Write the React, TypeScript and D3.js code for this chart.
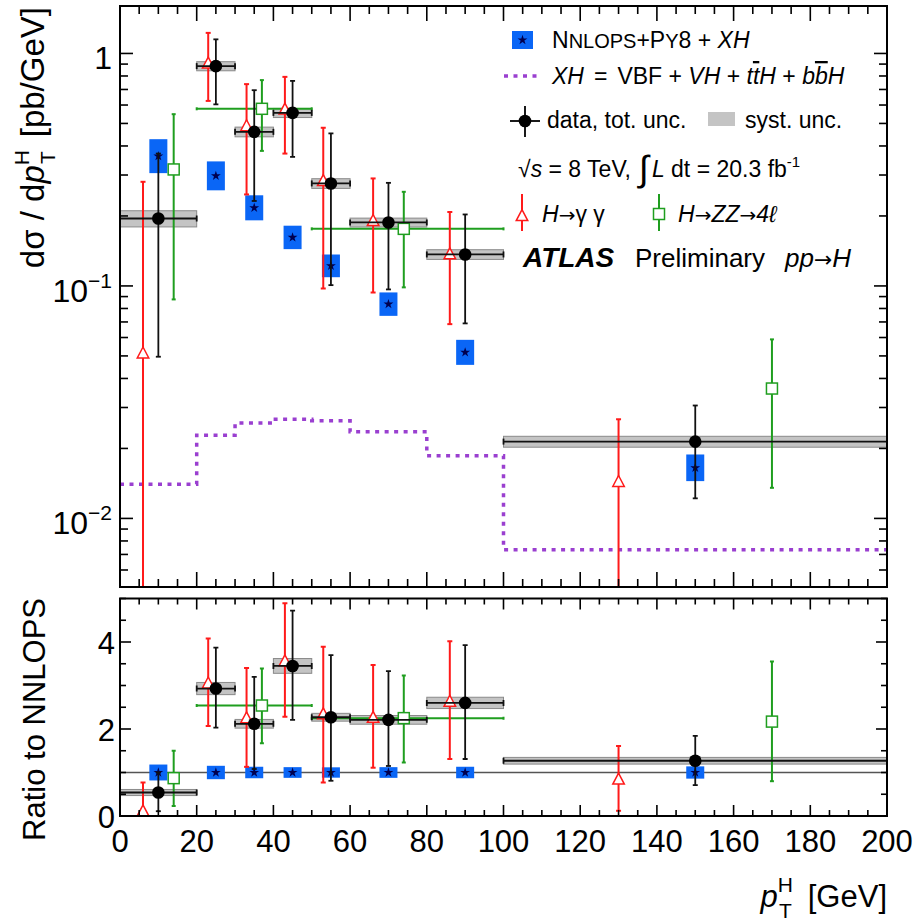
import React from "react";
import * as d3 from "d3";

// ---------------- data ----------------
const binLo = [0, 20, 30, 40, 50, 60, 80, 100];
const binHi = [20, 30, 40, 50, 60, 80, 100, 200];

// combined data (black)
const dataX = [10, 25, 35, 45, 55, 70, 90, 150];
const dataY = [0.195, 0.882, 0.46, 0.555, 0.276, 0.1875, 0.1366, 0.0214];
const dataUp = [0.371, 1.15, 0.695, 0.762, 0.453, 0.2776, 0.203, 0.0306];
const dataDn = [0.0496, 0.604, 0.232, 0.359, 0.1008, 0.0966, 0.069, 0.0122];
const dataSyst = [0.08, 0.045, 0.048, 0.045, 0.048, 0.044, 0.048, 0.054];

// NNLOPS+PY8 + XH (blue)
const nnlopsY = [0.3616, 0.2975, 0.2168, 0.1617, 0.122, 0.0835, 0.0518, 0.01651];
const nnlopsUnc = [0.183, 0.154, 0.132, 0.123, 0.119, 0.123, 0.132, 0.141];

// XH = VBF + VH + ttH + bbH (purple step)
const xhY = [0.01404, 0.0228, 0.0257, 0.0267, 0.0263, 0.0236, 0.0186, 0.00733];

// H -> gamma gamma (red)
const yyX = [6, 23, 33, 43, 53, 66, 86, 130];
const yyY = [0.0513, 0.906, 0.487, 0.574, 0.283, 0.1906, 0.137, 0.01437];
const yyUp = [0.2805, 1.226, 0.738, 0.793, 0.479, 0.29, 0.208, 0.0267];
const yyDn = [0.001, 0.625, 0.2475, 0.371, 0.0975, 0.0937, 0.0685, 0.001];

// H -> ZZ -> 4l (green)
const zzX = [14, 37, 74, 170];
const zzBinLo: (number | null)[] = [null, 20, 50, null];
const zzBinHi: (number | null)[] = [null, 50, 100, null];
const zzY = [0.317, 0.578, 0.176, 0.0362];
const zzUp = [0.548, 0.768, 0.254, 0.0589];
const zzDn = [0.0875, 0.381, 0.0986, 0.01354];

// ratio panel
const rDataY = [0.54, 2.93, 2.12, 3.45, 2.27, 2.21, 2.6, 1.27];
const rDataUp = [1.0, 3.87, 3.2, 4.72, 3.7, 3.33, 3.93, 1.84];
const rDataDn = [0.11, 2.03, 1.08, 2.21, 0.81, 1.15, 1.31, 0.71];
const rDataSyst = [0.07, 0.14, 0.1, 0.17, 0.09, 0.1, 0.13, 0.077];
const rYyY = [0.11, 3.05, 2.25, 3.56, 2.34, 2.26, 2.63, 0.84];
const rYyUp = [0.77, 4.08, 3.4, 4.89, 3.89, 3.47, 4.02, 1.61];
const rYyDn = [0, 2.07, 1.13, 2.28, 0.77, 1.11, 1.31, 0.12];
const rZzY = [0.87, 2.54, 2.25, 2.17];
const rZzUp = [1.5, 3.39, 3.23, 3.55];
const rZzDn = [0.23, 1.67, 1.23, 0.8];

// ticks
const xTickVals = [0, 20, 40, 60, 80, 100, 120, 140, 160, 180, 200];
const xTickLabels = ["0", "20", "40", "60", "80", "100", "120", "140", "160", "180", "200"];
const yTopDecades = [1, 0.1, 0.01];
const yTopLabels: [string, string][] = [["1", ""], ["10", "−1"], ["10", "−2"]];
const yRatioTicks = [0, 2, 4];
const yRatioLabels = ["0", "2", "4"];

// ---------------- style ----------------
const FONT = "'Liberation Sans', Arial, Helvetica, sans-serif";
const BLUE = "#0a66f6";
const NAVY = "#000050";
const RED = "#ff1a1a";
const GREEN = "#1f9e1f";
const PURPLE = "#9a3fd0";
const GRAYFILL = "#c4c4c4";
const GRAYSTROKE = "#8a8a8a";

const L = 120, R = 887;
const T1 = 6, B1 = 587;
const T2 = 598.5, B2 = 816;

function VErr({ x, y1, y2, color, cap = 2.5, w = 2 }: any) {
  return (
    <g stroke={color} strokeWidth={w}>
      <line x1={x} x2={x} y1={y1} y2={y2} />
      <line x1={x - cap} x2={x + cap} y1={y1} y2={y1} />
      <line x1={x - cap} x2={x + cap} y1={y2} y2={y2} />
    </g>
  );
}

function HBar({ x1, x2, y, color, cap = 3, w = 2 }: any) {
  return (
    <g stroke={color} strokeWidth={w}>
      <line x1={x1} x2={x2} y1={y} y2={y} />
      <line x1={x1} x2={x1} y1={y - cap} y2={y + cap} />
      <line x1={x2} x2={x2} y1={y - cap} y2={y + cap} />
    </g>
  );
}

const triPath = (cx: number, cy: number, s = 11.5) =>
  `M${cx},${cy - s * 0.55} L${cx + s / 2},${cy + s * 0.4} L${cx - s / 2},${cy + s * 0.4} Z`;

const starPath = d3.symbol(d3.symbolStar, 30)() as string;

export default function App() {
  const x = d3.scaleLinear().domain([0, 200]).range([L, R]);
  const yT = d3.scaleLog().domain([0.00507, 1.6]).range([B1, T1]);
  const yR = d3.scaleLinear().domain([0, 5]).range([B2, T2]);

  const xhPts: [number, number][] = binLo.map((b, i) => [b, xhY[i]]);
  xhPts.push([200, xhY[xhY.length - 1]]);
  const xhLine = d3
    .line<[number, number]>()
    .x((d) => x(d[0]))
    .y((d) => yT(d[1]))
    .curve(d3.curveStepAfter)(xhPts) as string;

  const minorX = d3.range(0, 201, 5);
  const minorTopY: number[] = [];
  [0.001, 0.01, 0.1, 1].forEach((dec) => {
    for (let k = 1; k < 10; k++) {
      const v = dec * k;
      if (v >= 0.00507 && v <= 1.6) minorTopY.push(v);
    }
  });
  const minorRatioY = d3.range(0, 5.01, 0.5);

  return (
    <svg
      width={917}
      height={921}
      style={{ position: "absolute", left: 0, top: 0, background: "#fff" }}
      fontFamily={FONT}
    >
      <defs>
        <clipPath id="clipTop">
          <rect x={L} y={T1} width={R - L} height={B1 - T1} />
        </clipPath>
        <clipPath id="clipRatio">
          <rect x={L} y={T2 - 2} width={R - L} height={B2 - T2 + 4} />
        </clipPath>
      </defs>
      <rect x={0} y={0} width={917} height={921} fill="#fff" />

      {/* ================= TOP PANEL ================= */}
      <g clipPath="url(#clipTop)">
        {binLo.map((b, i) => (
          <rect
            key={"sb" + i}
            x={x(b)}
            width={x(binHi[i]) - x(b)}
            y={yT(dataY[i] * (1 + dataSyst[i]))}
            height={yT(dataY[i] * (1 - dataSyst[i])) - yT(dataY[i] * (1 + dataSyst[i]))}
            fill={GRAYFILL}
            stroke={GRAYSTROKE}
            strokeWidth={1}
          />
        ))}
        <path d={xhLine} fill="none" stroke={PURPLE} strokeWidth={3.5} strokeDasharray="4 5.5" />
        {dataX.map((xv, i) => {
          const hi = yT(nnlopsY[i] * (1 + nnlopsUnc[i]));
          const lo = yT(nnlopsY[i] / (1 + nnlopsUnc[i]));
          return (
            <g key={"nb" + i}>
              <rect x={x(xv) - 9} width={18} y={hi} height={lo - hi} fill={BLUE} />
              <path d={starPath} transform={`translate(${x(xv)},${yT(nnlopsY[i])})`} fill={NAVY} />
            </g>
          );
        })}
        {zzX.map((xv, i) => (
          <g key={"zz" + i}>
            {zzBinLo[i] !== null && (
              <HBar x1={x(zzBinLo[i] as number)} x2={x(zzBinHi[i] as number)} y={yT(zzY[i])} color={GREEN} cap={1.5} />
            )}
            <VErr x={x(xv)} y1={yT(zzUp[i])} y2={yT(zzDn[i])} color={GREEN} cap={2} />
            <rect x={x(xv) - 5.5} y={yT(zzY[i]) - 5.5} width={11} height={11} fill="#fff" stroke={GREEN} strokeWidth={1.5} />
          </g>
        ))}
        {yyX.map((xv, i) => (
          <g key={"yy" + i}>
            <VErr x={x(xv)} y1={yT(yyUp[i])} y2={yT(yyDn[i])} color={RED} cap={2.5} />
            <path d={triPath(x(xv), yT(yyY[i]))} fill="#fff" stroke={RED} strokeWidth={1.5} />
          </g>
        ))}
        {dataX.map((xv, i) => (
          <g key={"dd" + i}>
            <HBar x1={x(binLo[i])} x2={x(binHi[i])} y={yT(dataY[i])} color="#111" cap={3} w={1.8} />
            <VErr x={x(xv)} y1={yT(dataUp[i])} y2={yT(dataDn[i])} color="#111" cap={2.5} w={1.8} />
            <circle cx={x(xv)} cy={yT(dataY[i])} r={6.3} fill="#000" />
          </g>
        ))}
      </g>

      <g stroke="#000" strokeWidth={1.6}>
        {minorX.map((v) => {
          const len = v % 20 === 0 ? 15 : 8;
          return (
            <g key={"tx" + v}>
              <line x1={x(v)} x2={x(v)} y1={B1} y2={B1 - len} />
              <line x1={x(v)} x2={x(v)} y1={T1} y2={T1 + len} />
            </g>
          );
        })}
        {minorTopY.map((v, i) => {
          const major = yTopDecades.some((d) => Math.abs(d - v) / d < 1e-6);
          const len = major ? 13 : 8;
          return (
            <g key={"ty" + i}>
              <line x1={L} x2={L + len} y1={yT(v)} y2={yT(v)} />
              <line x1={R} x2={R - len} y1={yT(v)} y2={yT(v)} />
            </g>
          );
        })}
      </g>
      <rect x={L} y={T1} width={R - L} height={B1 - T1} fill="none" stroke="#000" strokeWidth={2} />

      {yTopDecades.map((d, i) => (
        <text key={"tyl" + i} x={112} y={yT(d) + 16} fontSize={32} textAnchor="end">
          {yTopLabels[i][0]}
          {yTopLabels[i][1] && (
            <tspan fontSize={21} dy={-14}>
              {yTopLabels[i][1]}
            </tspan>
          )}
        </text>
      ))}

      <text transform="translate(44,7) rotate(-90)" textAnchor="end" fontSize={33}>
        dσ / d<tspan fontStyle="italic">p</tspan>
        <tspan fontSize={21} dy={-15}>H</tspan>
        <tspan fontSize={21} dx={-14} dy={26}>T</tspan>
        <tspan dx={14} dy={-11}>[pb/GeV]</tspan>
      </text>

      {/* ================= LEGEND ================= */}
      <g fontSize={23}>
        <rect x={512} y={31} width={21} height={18} fill={BLUE} />
        <path d={starPath} transform="translate(522.5,40)" fill={NAVY} />
        <text x={552} y={48}>
          N<tspan fontSize={20}>NLOPS</tspan>+P<tspan fontSize={20}>Y</tspan>8 + <tspan fontStyle="italic">XH</tspan>
        </text>

        <line x1={504} x2={539} y1={76} y2={76} stroke={PURPLE} strokeWidth={3.5} strokeDasharray="4 5.5" />
        <text x={552} y={84}>
          <tspan fontStyle="italic">XH</tspan>
          <tspan dx={10}>=</tspan>
          <tspan dx={10}>VBF + </tspan>
          <tspan fontStyle="italic">VH</tspan> +{" "}
          <tspan fontStyle="italic">t</tspan>
          <tspan fontStyle="italic" textDecoration="overline">t</tspan>
          <tspan fontStyle="italic">H</tspan> + <tspan fontStyle="italic">b</tspan>
          <tspan fontStyle="italic" textDecoration="overline">b</tspan>
          <tspan fontStyle="italic">H</tspan>
        </text>

        <g stroke="#000" strokeWidth={1.8}>
          <line x1={510} x2={540} y1={121} y2={121} />
          <line x1={525} x2={525} y1={106} y2={137} />
        </g>
        <circle cx={525} cy={121} r={6.3} fill="#000" />
        <text x={547} y={128}>data, tot. unc.</text>
        <rect x={708} y={112} width={27} height={14} fill={GRAYFILL} />
        <text x={745} y={128}>syst. unc.</text>

        <text x={518} y={177}>
          √<tspan fontStyle="italic">s</tspan> = 8 TeV,
          <tspan fontSize={36} dx={8} dy={4}>∫</tspan>
          <tspan dx={3} dy={-4} fontStyle="italic">L</tspan> dt = 20.3 fb
          <tspan fontSize={15} dy={-10}>-1</tspan>
        </text>

        <line x1={522} x2={522} y1={194} y2={231} stroke={RED} strokeWidth={2} />
        <path d={triPath(522, 216)} fill="#fff" stroke={RED} strokeWidth={1.5} />
        <text x={542} y={222}>
          <tspan fontStyle="italic">H</tspan>
          <tspan fontFamily="'DejaVu Sans', sans-serif" fontSize={20}>→</tspan>
          <tspan>γ γ</tspan>
        </text>
        <line x1={659} x2={659} y1={194} y2={231} stroke={GREEN} strokeWidth={2} />
        <rect x={653.5} y={208.5} width={11} height={11} fill="#fff" stroke={GREEN} strokeWidth={1.5} />
        <text x={678} y={222} fontStyle="italic">
          H<tspan fontFamily="'DejaVu Sans', sans-serif" fontStyle="normal" fontSize={20}>→</tspan>ZZ
          <tspan fontFamily="'DejaVu Sans', sans-serif" fontStyle="normal" fontSize={20}>→</tspan>4ℓ
        </text>

        <text x={523} y={267} fontSize={28} fontWeight="bold" fontStyle="italic">
          ATLAS
        </text>
        <text x={635} y={267} fontSize={26}>
          Preliminary
        </text>
        <text x={785} y={267} fontSize={26} fontStyle="italic">
          pp<tspan fontFamily="'DejaVu Sans', sans-serif" fontStyle="normal" fontSize={22}>→</tspan>H
        </text>
      </g>

      {/* ================= RATIO PANEL ================= */}
      <g clipPath="url(#clipRatio)">
        <line x1={L} x2={R} y1={yR(1)} y2={yR(1)} stroke="#555" strokeWidth={1.5} />
        {binLo.map((b, i) => (
          <rect
            key={"rsb" + i}
            x={x(b)}
            width={x(binHi[i]) - x(b)}
            y={yR(rDataY[i] + rDataSyst[i])}
            height={yR(rDataY[i] - rDataSyst[i]) - yR(rDataY[i] + rDataSyst[i])}
            fill={GRAYFILL}
            stroke={GRAYSTROKE}
            strokeWidth={1}
          />
        ))}
        {dataX.map((xv, i) => {
          const hi = yR(1 + nnlopsUnc[i]);
          const lo = yR(1 - nnlopsUnc[i]);
          return (
            <g key={"rnb" + i}>
              <rect x={x(xv) - 9} width={18} y={hi} height={lo - hi} fill={BLUE} />
              <path d={starPath} transform={`translate(${x(xv)},${yR(1)})`} fill={NAVY} />
            </g>
          );
        })}
        {zzX.map((xv, i) => (
          <g key={"rzz" + i}>
            {zzBinLo[i] !== null && (
              <HBar x1={x(zzBinLo[i] as number)} x2={x(zzBinHi[i] as number)} y={yR(rZzY[i])} color={GREEN} cap={1.5} />
            )}
            <VErr x={x(xv)} y1={yR(rZzUp[i])} y2={yR(rZzDn[i])} color={GREEN} cap={2} />
            <rect x={x(xv) - 5.5} y={yR(rZzY[i]) - 5.5} width={11} height={11} fill="#fff" stroke={GREEN} strokeWidth={1.5} />
          </g>
        ))}
        {yyX.map((xv, i) => (
          <g key={"ryy" + i}>
            <VErr x={x(xv)} y1={yR(rYyUp[i])} y2={yR(rYyDn[i])} color={RED} cap={2.5} />
            <path d={triPath(x(xv), yR(rYyY[i]))} fill="#fff" stroke={RED} strokeWidth={1.5} />
          </g>
        ))}
        {dataX.map((xv, i) => (
          <g key={"rdd" + i}>
            <HBar x1={x(binLo[i])} x2={x(binHi[i])} y={yR(rDataY[i])} color="#111" cap={3} w={1.8} />
            <VErr x={x(xv)} y1={yR(rDataUp[i])} y2={yR(rDataDn[i])} color="#111" cap={2.5} w={1.8} />
            <circle cx={x(xv)} cy={yR(rDataY[i])} r={6.3} fill="#000" />
          </g>
        ))}
      </g>

      <g stroke="#000" strokeWidth={1.6}>
        {minorX.map((v) => {
          const len = v % 20 === 0 ? 11 : 6;
          return (
            <g key={"rtx" + v}>
              <line x1={x(v)} x2={x(v)} y1={B2} y2={B2 - len} />
              <line x1={x(v)} x2={x(v)} y1={T2} y2={T2 + len} />
            </g>
          );
        })}
        {minorRatioY.map((v, i) => {
          const len = v % 2 === 0 ? 11 : 6;
          return (
            <g key={"rty" + i}>
              <line x1={L} x2={L + len} y1={yR(v)} y2={yR(v)} />
              <line x1={R} x2={R - len} y1={yR(v)} y2={yR(v)} />
            </g>
          );
        })}
      </g>
      <rect x={L} y={T2} width={R - L} height={B2 - T2} fill="none" stroke="#000" strokeWidth={2} />

      {yRatioTicks.map((v, i) => (
        <text key={"ryl" + i} x={115} y={yR(v) + 12} fontSize={31} textAnchor="end">
          {yRatioLabels[i]}
        </text>
      ))}
      {xTickVals.map((v, i) => (
        <text key={"xl" + i} x={x(v)} y={852} fontSize={31} textAnchor="middle">
          {xTickLabels[i]}
        </text>
      ))}

      <text transform="translate(45,598) rotate(-90)" textAnchor="end" fontSize={31}>
        Ratio to NNLOPS
      </text>

      <text x={887} y={907} fontSize={31} textAnchor="end">
        <tspan fontStyle="italic">p</tspan>
        <tspan fontSize={21} dy={-15}>H</tspan>
        <tspan fontSize={21} dx={-14} dy={26}>T</tspan>
        <tspan dx={16} dy={-11}>[GeV]</tspan>
      </text>
    </svg>
  );
}
